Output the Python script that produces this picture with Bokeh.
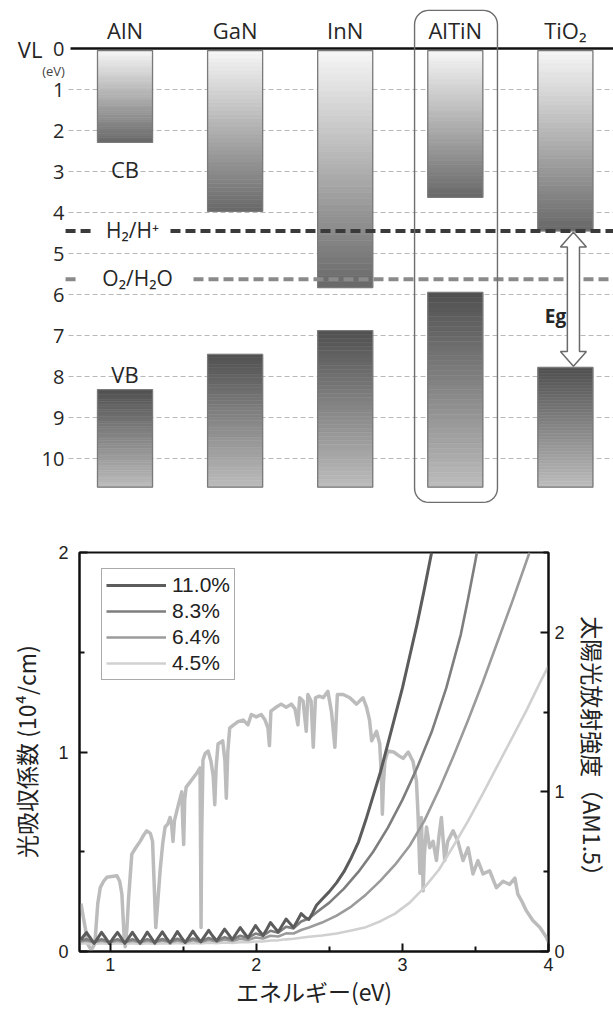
import numpy as np
from bokeh.plotting import figure
from bokeh.models import Range1d, LinearAxis, FixedTicker, Legend, LegendItem
from bokeh.embed import file_html
from bokeh.resources import INLINE
from bokeh.core.properties import value

# ---------------- DATA: band alignment (eV below vacuum level) ----------------
materials = ["AlN", "GaN", "InN", "AlTiN", "TiO₂"]
cb_edge = [2.29, 3.97, 5.83, 3.63, 4.45]
vb_edge = [8.32, 7.46, 6.88, 5.95, 7.78]
band_floor = 10.7
vacuum_level = 0.0
h2_level = 4.45
o2_level = 5.63
energy_ticks = [0, 1, 2, 3, 4, 5, 6, 7, 8, 9, 10]
energy_tick_labels = ["0", "1", "2", "3", "4", "5", "6", "7", "8", "9", "10"]

# ---------------- DATA: absorption coefficient (10^4/cm) ----------------
e_110 = [0.80, 0.838, 0.864, 0.890, 0.916, 0.941, 0.968, 0.995, 1.022, 1.050, 1.076, 1.100,
         1.126, 1.152, 1.178, 1.205, 1.230, 1.254, 1.280, 1.305, 1.330, 1.357, 1.383, 1.410,
         1.436, 1.460, 1.486, 1.513, 1.540, 1.566, 1.592, 1.620, 1.647, 1.674, 1.700, 1.730,
         1.756, 1.783, 1.810, 1.836, 1.863, 1.890, 1.916, 1.943, 1.969, 1.995, 2.020, 2.046,
         2.072, 2.097, 2.124, 2.150, 2.177, 2.204, 2.230, 2.255, 2.281, 2.307, 2.333, 2.360,
         2.386, 2.412, 2.45, 2.50, 2.55, 2.60, 2.65, 2.70, 2.75, 2.80, 2.85, 2.90, 2.95, 3.00,
         3.05, 3.10, 3.15, 3.20]
a_110 = [0.060, 0.095, 0.068, 0.040, 0.068, 0.096, 0.068, 0.040, 0.068, 0.096, 0.068, 0.040,
         0.068, 0.096, 0.068, 0.041, 0.069, 0.097, 0.070, 0.042, 0.070, 0.098, 0.070, 0.043,
         0.071, 0.100, 0.072, 0.045, 0.073, 0.102, 0.074, 0.048, 0.077, 0.106, 0.079, 0.053,
         0.082, 0.112, 0.086, 0.060, 0.090, 0.120, 0.094, 0.068, 0.099, 0.130, 0.104, 0.080,
         0.112, 0.145, 0.121, 0.098, 0.130, 0.163, 0.141, 0.120, 0.154, 0.190, 0.172, 0.160,
         0.195, 0.232, 0.262, 0.300, 0.345, 0.400, 0.470, 0.550, 0.660, 0.780, 0.900, 1.040,
         1.180, 1.320, 1.480, 1.640, 1.815, 2.000]

e_fringe = [0.80, 0.838, 0.890, 0.941, 0.995, 1.050, 1.100, 1.152, 1.205, 1.254, 1.305,
            1.357, 1.410, 1.460, 1.513, 1.566, 1.620, 1.674, 1.730, 1.783, 1.836, 1.890,
            1.943, 1.995, 2.046, 2.097, 2.150, 2.204, 2.255, 2.307, 2.360]
a_83_fringe = [0.055, 0.062, 0.048, 0.062, 0.048, 0.062, 0.048, 0.062, 0.048, 0.062, 0.049,
               0.063, 0.049, 0.064, 0.050, 0.065, 0.051, 0.068, 0.054, 0.072, 0.060, 0.079,
               0.068, 0.090, 0.079, 0.104, 0.094, 0.124, 0.116, 0.150, 0.165]
a_64_fringe = [0.050, 0.054, 0.046, 0.054, 0.046, 0.054, 0.046, 0.054, 0.046, 0.054, 0.046,
               0.055, 0.047, 0.055, 0.047, 0.056, 0.048, 0.058, 0.050, 0.060, 0.053, 0.064,
               0.058, 0.070, 0.065, 0.079, 0.075, 0.091, 0.090, 0.108, 0.120]
a_45_fringe = [0.040, 0.042, 0.038, 0.042, 0.038, 0.042, 0.038, 0.042, 0.038, 0.042, 0.038,
               0.042, 0.039, 0.043, 0.039, 0.043, 0.040, 0.044, 0.041, 0.045, 0.043, 0.047,
               0.046, 0.050, 0.050, 0.055, 0.056, 0.061, 0.064, 0.069, 0.074]

e_83_rise = [2.42, 2.50, 2.60, 2.70, 2.80, 2.90, 3.00, 3.10, 3.20, 3.30, 3.40, 3.45, 3.50, 3.51]
a_83_rise = [0.200, 0.245, 0.315, 0.400, 0.500, 0.620, 0.760, 0.920, 1.100, 1.320, 1.590,
             1.770, 1.960, 2.000]
e_64_rise = [2.45, 2.55, 2.65, 2.75, 2.85, 2.95, 3.05, 3.15, 3.25, 3.35, 3.45, 3.55, 3.65,
             3.75, 3.87]
a_64_rise = [0.145, 0.180, 0.225, 0.285, 0.355, 0.435, 0.530, 0.655, 0.810, 0.980, 1.160,
             1.350, 1.550, 1.750, 2.000]
e_45_rise = [2.45, 2.55, 2.65, 2.75, 2.85, 2.95, 3.05, 3.15, 3.25, 3.35, 3.45, 3.55, 3.65,
             3.75, 3.85, 3.95, 4.00]
a_45_rise = [0.080, 0.090, 0.105, 0.122, 0.152, 0.190, 0.245, 0.320, 0.410, 0.530, 0.655,
             0.790, 0.930, 1.070, 1.210, 1.360, 1.430]

series_labels = ["11.0%", "8.3%", "6.4%", "4.5%"]

# ---------------- DATA: AM1.5 solar irradiance (right axis) ----------------
e_sun = [0.800, 0.815, 0.835, 0.850, 0.870, 0.895, 0.915, 0.932, 0.955, 0.977, 1.010, 1.046,
         1.065, 1.080, 1.095, 1.103, 1.115, 1.125, 1.148, 1.175, 1.205, 1.230, 1.250, 1.275,
         1.290, 1.300, 1.312, 1.325, 1.342, 1.360, 1.376, 1.395, 1.410, 1.420, 1.430, 1.440,
         1.467, 1.490, 1.497, 1.503, 1.510, 1.520, 1.545, 1.570, 1.595, 1.615, 1.619, 1.622,
         1.626, 1.635, 1.650, 1.670, 1.690, 1.705, 1.716, 1.725, 1.738, 1.770, 1.785, 1.795,
         1.805, 1.818, 1.845, 1.875, 1.910, 1.943, 1.966, 2.000, 2.034, 2.060, 2.080, 2.090,
         2.100, 2.135, 2.170, 2.205, 2.240, 2.265, 2.285, 2.297, 2.320, 2.342, 2.353, 2.375,
         2.390, 2.405, 2.430, 2.458, 2.490, 2.515, 2.538, 2.555, 2.595, 2.640, 2.686, 2.730,
         2.755, 2.775, 2.790, 2.823, 2.845, 2.856, 2.863, 2.870, 2.880, 2.900, 2.940, 2.970,
         3.005, 3.040, 3.073, 3.096, 3.107, 3.120, 3.130, 3.142, 3.150, 3.165, 3.187, 3.210,
         3.233, 3.250, 3.267, 3.290, 3.310, 3.347, 3.380, 3.415, 3.450, 3.483, 3.517, 3.552,
         3.597, 3.643, 3.689, 3.734, 3.770, 3.790, 3.820, 3.848, 3.893, 3.940, 3.985, 4.000]
i_sun = [0.30, 0.22, 0.12, 0.04, 0.01, 0.05, 0.30, 0.40, 0.44, 0.465, 0.47, 0.475,
         0.44, 0.36, 0.10, 0.03, 0.15, 0.32, 0.61, 0.65, 0.69, 0.73, 0.756, 0.74,
         0.69, 0.45, 0.15, 0.30, 0.51, 0.68, 0.78, 0.80, 0.84, 0.80, 0.69, 0.82,
         0.92, 1.00, 0.80, 0.67, 0.95, 1.03, 1.06, 1.09, 1.12, 1.15, 0.60, 0.15,
         0.70, 1.20, 1.24, 1.256, 1.19, 1.10, 0.92, 1.15, 1.30, 1.32, 1.20, 0.96,
         1.25, 1.40, 1.42, 1.44, 1.45, 1.42, 1.485, 1.47, 1.485, 1.45, 1.40, 1.29,
         1.506, 1.53, 1.55, 1.53, 1.55, 1.52, 1.42, 1.59, 1.57, 1.38, 1.61, 1.57,
         1.28, 1.59, 1.60, 1.59, 1.63, 1.50, 1.28, 1.61, 1.61, 1.59, 1.55, 1.59,
         1.53, 1.45, 1.32, 1.38, 1.30, 1.10, 0.86, 1.05, 1.19, 1.256, 1.25, 1.23,
         1.21, 1.25, 1.19, 1.07, 0.86, 0.49, 0.84, 0.38, 0.60, 0.78, 0.65, 0.69,
         0.57, 0.72, 0.84, 0.57, 0.69, 0.756, 0.69, 0.57, 0.65, 0.486, 0.57, 0.486,
         0.506, 0.40, 0.44, 0.42, 0.46, 0.36, 0.31, 0.256, 0.194, 0.152, 0.09, 0.06]

x_ticks = [1, 2, 3, 4]
abs_ticks = [0, 1, 2]
sun_ticks = [0, 1, 2]

# =============================== TOP PANEL ===============================
TOP_FONT = "Open Sans"
TXT = "#262626"
X_LEFT, X_RIGHT = -1.131, 4.437
top = figure(width=613, height=513, x_range=Range1d(X_LEFT, X_RIGHT),
             y_range=Range1d(11.341, -1.171), x_axis_location=None, y_axis_location=None,
             output_backend="svg", toolbar_location=None, min_border=0)
top.grid.visible = False
top.outline_line_color = None

X_TICKLBL = -0.55
X_GRID0 = -0.513
X_VL0 = -0.495
BAR_HALF = 0.25

# dashed grid lines
grid_e = [e for e in energy_ticks if e > 0]
top.segment(x0=[X_GRID0] * len(grid_e), y0=grid_e, x1=[X_RIGHT] * len(grid_e), y1=grid_e,
            line_color="#b8b8b8", line_width=1, line_dash="5 3")

# gradient bars
def grey(v):
    v = int(round(v))
    return "#%02x%02x%02x" % (v, v, v)

N = 40
L, R, T, B, C = [], [], [], [], []
OL, OR, OT, OB = [], [], [], []
for i, (cb, vb) in enumerate(zip(cb_edge, vb_edge)):
    for (t0, b0, g0, g1) in ((vacuum_level + 0.05, cb, 247, 104), (vb, band_floor, 80, 188)):
        edges = np.linspace(t0, b0, N + 1)
        for k in range(N):
            f = (k + 0.5) / N
            L.append(i - BAR_HALF); R.append(i + BAR_HALF)
            T.append(edges[k]); B.append(edges[k + 1])
            C.append(grey(g0 + (g1 - g0) * f))
        OL.append(i - BAR_HALF); OR.append(i + BAR_HALF); OT.append(t0); OB.append(b0)
top.quad(left=L, right=R, top=T, bottom=B, fill_color=C, line_color=C, line_width=0.6)
top.quad(left=OL, right=OR, top=OT, bottom=OB, fill_color=None, line_color="#7a7a7a",
         line_width=1.3)

# vacuum level line
top.segment(x0=[X_VL0], y0=[vacuum_level], x1=[X_RIGHT], y1=[vacuum_level],
            line_color="#111111", line_width=2.5)

# redox levels
top.segment(x0=[-0.540, 0.413], y0=[h2_level] * 2, x1=[-0.313, X_RIGHT], y1=[h2_level] * 2,
            line_color="#3a3a3a", line_width=4, line_dash="10 5")
top.segment(x0=[-0.540, 0.622], y0=[o2_level] * 2, x1=[-0.431, X_RIGHT], y1=[o2_level] * 2,
            line_color="#8a8a8a", line_width=4, line_dash="10 5")
top.text(x=[0.068], y=[h2_level - 0.03], text=["H₂/H⁺"], text_align="center",
         text_baseline="middle", text_font=value(TOP_FONT), text_font_size="21px",
         text_color=TXT)
top.text(x=[0.114], y=[o2_level - 0.03], text=["O₂/H₂O"], text_align="center",
         text_baseline="middle", text_font=value(TOP_FONT), text_font_size="21px",
         text_color=TXT)

# AlTiN highlight box (rounded rectangle)
ib = materials.index("AlTiN")
bx0, bx1, by0, by1 = ib - 0.37, ib + 0.383, -0.93, 11.07
rx, ry = 14 / 110.1, 14 / 41.0
ang = np.linspace(0, np.pi / 2, 10)
px, py = [], []
for (cx, cy, a0) in ((bx1 - rx, by0 + ry, -np.pi / 2), (bx1 - rx, by1 - ry, 0.0),
                     (bx0 + rx, by1 - ry, np.pi / 2), (bx0 + rx, by0 + ry, np.pi)):
    for a in a0 + ang:
        px.append(cx + rx * np.cos(a))
        py.append(cy + ry * np.sin(a))
px.append(px[0]); py.append(py[0])
top.line(px, py, line_color="#6e6e6e", line_width=1.4)

# band-gap arrow for TiO2
it = materials.index("TiO₂")
xc = it + 0.073
sw, hw, hl = 0.055, 0.118, 0.36
ta, ba = cb_edge[it] + 0.03, vb_edge[it] - 0.03
arrow_x = [xc, xc + hw, xc + sw, xc + sw, xc + hw, xc, xc - hw, xc - sw, xc - sw, xc - hw]
arrow_y = [ta, ta + hl, ta + hl, ba - hl, ba - hl, ba, ba - hl, ba - hl, ta + hl, ta + hl]
top.patch(arrow_x, arrow_y, fill_color="white", line_color="#6a6a6a", line_width=1.5)
top.text(x=[3.91], y=[(cb_edge[it] + vb_edge[it]) / 2 + 0.4], text=["Eg"], text_align="center",
         text_baseline="middle", text_font=value(TOP_FONT), text_font_size="19px",
         text_font_style="bold", text_color=TXT)

# material labels
top.text(x=list(range(len(materials))), y=[-0.44] * len(materials), text=materials,
         text_align="center", text_baseline="middle", text_font=value(TOP_FONT),
         text_font_size="22px", text_color=TXT)

# energy tick labels
top.text(x=[X_TICKLBL] * len(energy_ticks), y=energy_ticks, text=energy_tick_labels,
         text_align="right", text_baseline="middle", text_font=value(TOP_FONT),
         text_font_size="20px", text_color=TXT)
top.text(x=[-0.75], y=[vacuum_level], text=["VL"], text_align="right", text_baseline="middle",
         text_font=value(TOP_FONT), text_font_size="22px", text_color=TXT)
top.text(x=[-0.649], y=[0.54], text=["(eV)"], text_align="center", text_baseline="middle",
         text_font=value(TOP_FONT), text_font_size="13px", text_color="#444444")
top.text(x=[0.0], y=[(cb_edge[0] + 3.3) / 2 + 0.15], text=["CB"], text_align="center",
         text_baseline="middle", text_font=value(TOP_FONT), text_font_size="22px",
         text_color=TXT)
top.text(x=[0.0], y=[vb_edge[0] - 0.38], text=["VB"], text_align="center",
         text_baseline="middle", text_font=value(TOP_FONT), text_font_size="22px",
         text_color=TXT)

# ============================== BOTTOM PANEL ==============================
BOT_FONT = "Liberation Sans"
CJK = "Noto Sans CJK JP"
bot = figure(width=613, height=505, x_range=Range1d(0.79, 4.0), y_range=Range1d(0, 2),
             output_backend="svg", toolbar_location=None,
             min_border_left=79, min_border_right=65, min_border_top=39, min_border_bottom=67)
bot.extra_y_ranges = {"sun": Range1d(0, 2.5)}
bot.grid.visible = False
bot.outline_line_color = "#111111"
bot.outline_line_width = 2

rax = LinearAxis(y_range_name="sun")
bot.add_layout(rax, "right")

bot.xaxis.ticker = FixedTicker(ticks=x_ticks, minor_ticks=[1.5, 2.5, 3.5])
bot.yaxis[0].ticker = FixedTicker(ticks=abs_ticks, minor_ticks=[0.5, 1.5])
rax.ticker = FixedTicker(ticks=sun_ticks, minor_ticks=[0.5, 1.5, 2.5])

bot.xaxis.axis_label = "エネルギー(eV)"
bot.yaxis[0].axis_label = "光吸収係数 (10⁴/cm)"
rax.axis_label = "太陽光放射強度（AM1.5）"

for ax in (bot.xaxis[0], bot.yaxis[0], rax):
    ax.axis_line_width = 2
    ax.axis_line_color = "#111111"
    ax.major_tick_in = 8
    ax.major_tick_out = 0
    ax.minor_tick_in = 5
    ax.minor_tick_out = 0
    ax.major_tick_line_width = 2
    ax.minor_tick_line_width = 2
    ax.major_tick_line_color = "#111111"
    ax.minor_tick_line_color = "#111111"
    ax.major_label_text_font = BOT_FONT
    ax.major_label_text_font_size = "18px"
    ax.major_label_text_color = "#222222"
    ax.axis_label_text_font = CJK
    ax.axis_label_text_font_style = "normal"
    ax.axis_label_text_font_size = "23px"
    ax.axis_label_text_color = "#222222"

bot.xaxis.major_label_standoff = 6
bot.xaxis.axis_label_standoff = 0
bot.yaxis[0].major_label_standoff = 11
bot.yaxis[0].axis_label_standoff = 12
rax.major_label_standoff = 6
rax.axis_label_standoff = 8

# spectrum
bot.line(e_sun, i_sun, y_range_name="sun", line_color="#bcbcbc", line_width=3.5,
         line_join="round")

# absorption curves
r45 = bot.line(e_fringe + e_45_rise, a_45_fringe + a_45_rise, line_color="#d0d0d0",
               line_width=2.6, line_join="round")
r64 = bot.line(e_fringe + e_64_rise, a_64_fringe + a_64_rise, line_color="#9b9b9b",
               line_width=2.6, line_join="round")
r83 = bot.line(e_fringe + e_83_rise, a_83_fringe + a_83_rise, line_color="#7e7e7e",
               line_width=2.6, line_join="round")
r110 = bot.line(e_110, a_110, line_color="#5c5c5c", line_width=3, line_join="round")

legend = Legend(items=[LegendItem(label=series_labels[0], renderers=[r110]),
                       LegendItem(label=series_labels[1], renderers=[r83]),
                       LegendItem(label=series_labels[2], renderers=[r64]),
                       LegendItem(label=series_labels[3], renderers=[r45])],
                location=(22, 271))
legend.border_line_color = "#555555"
legend.border_line_width = 1
legend.background_fill_alpha = 1
legend.label_text_font = BOT_FONT
legend.label_text_font_size = "21px"
legend.label_text_color = "#222222"
legend.glyph_width = 60
legend.glyph_height = 20
legend.label_height = 20
legend.label_standoff = 6
legend.spacing = 2
legend.padding = 4
legend.margin = 0
bot.add_layout(legend)

open("out.html", "w").write(file_html([top, bot], INLINE))
